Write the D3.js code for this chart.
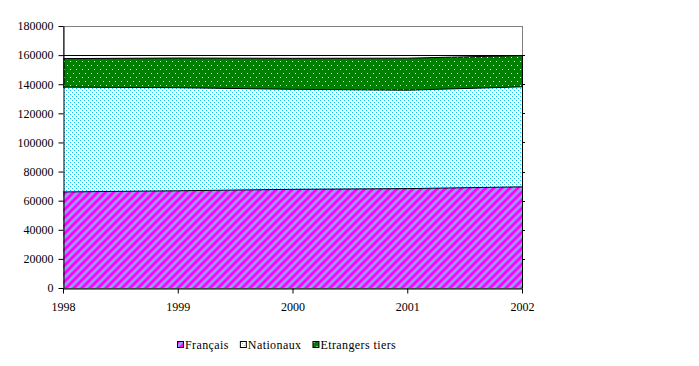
<!DOCTYPE html>
<html>
<head>
<meta charset="utf-8">
<script src="https://cdn.jsdelivr.net/npm/d3@7"></script>
<style>
	body { margin: 0; background: #fff; }
	svg { display: block; font-family: 'Liberation Serif', 'Times New Roman', serif; }
	.axis text { font-size: 12px; fill: #000; font-family: 'Liberation Serif', 'Times New Roman', serif; }
	.axis path, .axis line { stroke: #000; }
	.legend text { font-size: 12px; fill: #000; font-family: 'Liberation Serif', 'Times New Roman', serif; }
</style>
</head>
<body>
<div id="chart"></div>
<script>
var years = [1998, 1999, 2000, 2001, 2002];
var francais = [66000, 66800, 67800, 68300, 69500];
var nationaux = [72000, 70800, 68700, 67600, 68700];
var etrangers = [19600, 20400, 21300, 22000, 21500];
var seriesNames = ['Français', 'Nationaux', 'Etrangers tiers'];
var yTicks = [0, 20000, 40000, 60000, 80000, 100000, 120000, 140000, 160000, 180000];

var width = 699, height = 366;
var plot = { left: 63, right: 522, top: 26, bottom: 288 };

var svg = d3.select('#chart').append('svg')
	.attr('width', width)
	.attr('height', height);

// patterns
var defs = svg.append('defs');

var stripes = defs.append('pattern')
	.attr('id', 'pat0')
	.attr('patternUnits', 'userSpaceOnUse')
	.attr('width', 8).attr('height', 8);
stripes.append('rect').attr('width', 8).attr('height', 8).attr('fill', '#9999ff');
stripes.append('polygon').attr('points', '0,0 4,0 0,4').attr('fill', '#ff00ff');
stripes.append('polygon').attr('points', '8,0 8,4 4,8 0,8').attr('fill', '#ff00ff');

var dots = defs.append('pattern')
	.attr('id', 'pat1')
	.attr('patternUnits', 'userSpaceOnUse')
	.attr('width', 4).attr('height', 4);
dots.append('rect').attr('width', 4).attr('height', 4).attr('fill', '#fff');
dots.append('rect').attr('x', 0).attr('y', 0).attr('width', 1).attr('height', 1).attr('fill', '#00ccff');
dots.append('rect').attr('x', 2).attr('y', 2).attr('width', 1).attr('height', 1).attr('fill', '#00ccff');

var green = defs.append('pattern')
	.attr('id', 'pat2')
	.attr('patternUnits', 'userSpaceOnUse')
	.attr('width', 6).attr('height', 8);
green.append('rect').attr('width', 6).attr('height', 8).attr('fill', '#008000');
green.append('rect').attr('x', 1).attr('y', 1).attr('width', 1).attr('height', 1).attr('fill', '#fff');
green.append('rect').attr('x', 4).attr('y', 5).attr('width', 1).attr('height', 1).attr('fill', '#fff');

var x = d3.scaleLinear().domain([1998, 2002]).range([plot.left, plot.right]);
var y = d3.scaleLinear().domain([0, 180000]).range([plot.bottom, plot.top]);

// plot border
svg.append('rect')
	.attr('x', plot.left + 0.5).attr('y', plot.top + 0.5)
	.attr('width', plot.right - plot.left).attr('height', plot.bottom - plot.top)
	.attr('fill', 'none').attr('stroke', '#808080');

// gridlines
svg.append('g')
	.selectAll('line')
	.data(yTicks.slice(1, -1))
	.enter().append('line')
	.attr('x1', plot.left).attr('x2', plot.right + 3)
	.attr('y1', d => Math.round(y(d)) + 0.5)
	.attr('y2', d => Math.round(y(d)) + 0.5)
	.attr('stroke', '#000');

// stacked areas
var table = years.map((yr, i) => ({ year: yr, s0: francais[i], s1: nationaux[i], s2: etrangers[i] }));
var stack = d3.stack().keys(['s0', 's1', 's2']);
var layers = stack(table);

var area = d3.area()
	.x(d => x(d.data.year))
	.y0(d => y(d[0]))
	.y1(d => y(d[1]));
var topLine = d3.line()
	.x(d => x(d.data.year))
	.y(d => y(d[1]));

svg.append('g')
	.selectAll('path')
	.data(layers)
	.enter().append('path')
	.attr('d', area)
	.attr('fill', (d, i) => 'url(#pat' + i + ')');

svg.append('g')
	.selectAll('path')
	.data(layers)
	.enter().append('path')
	.attr('d', topLine)
	.attr('fill', 'none')
	.attr('stroke', '#000')
	.attr('stroke-width', 1);

// right edge line beside areas
svg.append('line')
	.attr('x1', plot.right + 0.5).attr('x2', plot.right + 0.5)
	.attr('y1', y(d3.sum([francais[4], nationaux[4], etrangers[4]])))
	.attr('y2', plot.bottom)
	.attr('stroke', '#000');

// axes
svg.append('g')
	.attr('class', 'axis')
	.attr('transform', 'translate(' + (plot.left + 0.5) + ',0)')
	.call(d3.axisLeft(y).tickValues(yTicks).tickSize(5).tickSizeOuter(0).tickFormat(d3.format('d')))
	.call(g => g.attr('font-family', null))
	.call(g => g.selectAll('text').attr('x', -10));

svg.append('g')
	.attr('class', 'axis')
	.attr('transform', 'translate(0,' + (plot.bottom + 0.5) + ')')
	.call(d3.axisBottom(x).tickValues(years).tickSize(5).tickSizeOuter(0).tickFormat(d3.format('d')))
	.call(g => g.attr('font-family', null))
	.call(g => g.selectAll('text').attr('y', 14));

// legend
var legend = svg.append('g').attr('class', 'legend').attr('transform', 'translate(177,341)');
var lx = 0;
seriesNames.forEach(function (name, i) {
	var item = legend.append('g').attr('transform', 'translate(' + lx + ',0)');
	item.append('rect')
		.attr('x', 0.5).attr('y', 0.5)
		.attr('width', 6).attr('height', 6)
		.attr('fill', 'url(#pat' + i + ')')
		.attr('stroke', '#000');
	var t = item.append('text')
		.attr('x', 8).attr('y', 8)
		.style('letter-spacing', '0.4px')
		.text(name);
	lx += 8 + t.node().getComputedTextLength() + 11;
});
</script>
</body>
</html>
